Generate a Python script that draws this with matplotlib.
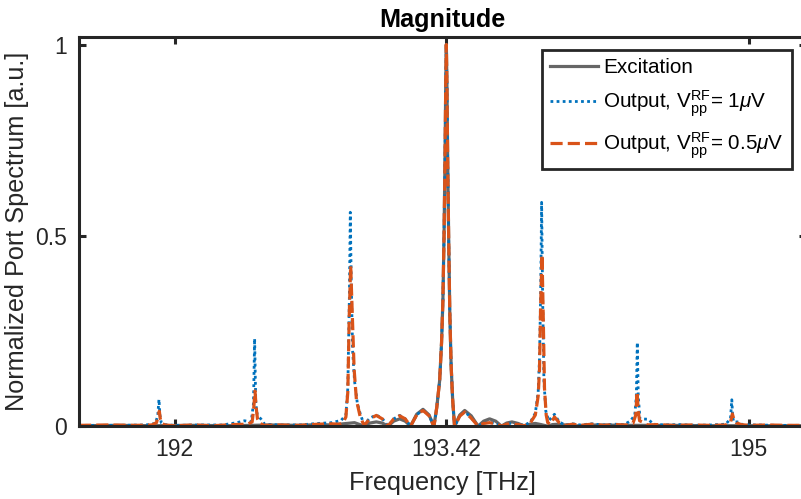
#magnitude of the port spectrum: excitation and two outputs
import numpy as np
import matplotlib
matplotlib.use("Agg")
import matplotlib.pyplot as plt

plt.rcParams['font.family'] = ['Liberation Sans', 'DejaVu Sans']
plt.rcParams['mathtext.fontset'] = 'custom'
plt.rcParams['mathtext.rm'] = 'Liberation Sans'
plt.rcParams['mathtext.it'] = 'Liberation Sans:italic'

# excitation (grey, solid)
f_exc = [191.50, 191.70, 191.90, 192.10, 192.30, 192.50, 192.65, 192.75, 192.82, 192.88,
         192.94, 192.985, 193.020, 193.054, 193.085, 193.115, 193.145, 193.176, 193.205, 193.233,
         193.265, 193.298, 193.330, 193.355, 193.370, 193.385, 193.395, 193.402, 193.408, 193.413,
         193.417, 193.420, 193.423, 193.427, 193.432, 193.438, 193.445, 193.453, 193.463, 193.490,
         193.516, 193.550, 193.586, 193.615, 193.646, 193.678, 193.708, 193.735, 193.763, 193.795,
         193.828, 193.855, 193.885, 193.915, 193.948, 193.975, 194.005, 194.040, 194.070, 194.20,
         194.40, 194.60, 194.80, 195.00, 195.30]
y_exc = [0.002, 0.003, 0.002, 0.003, 0.002, 0.004, 0.003, 0.005, 0.004, 0.007,
         0.010, 0.002, 0.009, 0.012, 0.009, 0.001, 0.014, 0.020, 0.014, 0.001,
         0.032, 0.045, 0.030, 0.0, 0.05, 0.12, 0.22, 0.33, 0.50, 0.70,
         0.90, 1.0, 0.90, 0.70, 0.50, 0.30, 0.16, 0.07, 0.0, 0.030,
         0.042, 0.028, 0.001, 0.014, 0.020, 0.014, 0.001, 0.009, 0.012, 0.008,
         0.001, 0.006, 0.008, 0.005, 0.001, 0.005, 0.006, 0.004, 0.001, 0.004,
         0.003, 0.003, 0.002, 0.002, 0.002]

# output, Vpp = 1 uV (blue, dotted)
f_1uv = [191.50, 191.70, 191.85, 191.90, 191.912, 191.918, 191.923, 191.930, 191.945, 192.00,
         192.15, 192.25, 192.325, 192.365, 192.40, 192.412, 192.418, 192.424, 192.432, 192.452,
         192.47, 192.55, 192.65, 192.75, 192.82, 192.87, 192.895, 192.905, 192.913, 192.918,
         192.923, 192.930, 192.940, 192.955, 192.972, 192.990, 193.020, 193.054, 193.085, 193.115,
         193.145, 193.176, 193.205, 193.233, 193.265, 193.298, 193.330, 193.355, 193.370, 193.385,
         193.395, 193.402, 193.408, 193.413, 193.417, 193.420, 193.423, 193.427, 193.432, 193.438,
         193.445, 193.453, 193.463, 193.490, 193.516, 193.550, 193.586, 193.615, 193.646, 193.678,
         193.708, 193.735, 193.763, 193.795, 193.828, 193.860, 193.885, 193.900, 193.907, 193.913,
         193.918, 193.923, 193.930, 193.940, 193.955, 193.985, 194.010, 194.040, 194.080, 194.120,
         194.180, 194.240, 194.300, 194.350, 194.383, 194.405, 194.413, 194.418, 194.423, 194.432,
         194.477, 194.500, 194.560, 194.640, 194.720, 194.800, 194.880, 194.905, 194.912, 194.916,
         194.921, 194.930, 194.947, 194.970, 195.050, 195.150, 195.300]
y_1uv = [0.003, 0.003, 0.004, 0.008, 0.030, 0.071, 0.030, 0.010, 0.005, 0.003,
         0.004, 0.004, 0.010, 0.015, 0.012, 0.060, 0.230, 0.060, 0.030, 0.019,
         0.006, 0.004, 0.004, 0.008, 0.010, 0.016, 0.030, 0.100, 0.330, 0.561,
         0.380, 0.200, 0.120, 0.060, 0.030, 0.005, 0.022, 0.030, 0.021, 0.001,
         0.020, 0.029, 0.020, 0.001, 0.031, 0.043, 0.029, 0.0, 0.05, 0.12,
         0.22, 0.33, 0.50, 0.70, 0.90, 1.0, 0.90, 0.70, 0.50, 0.30,
         0.16, 0.07, 0.0, 0.028, 0.039, 0.023, 0.001, 0.009, 0.011, 0.008,
         0.001, 0.006, 0.009, 0.006, 0.003, 0.012, 0.035, 0.090, 0.180, 0.350,
         0.587, 0.350, 0.120, 0.040, 0.015, 0.032, 0.012, 0.004, 0.007, 0.004,
         0.007, 0.004, 0.006, 0.005, 0.015, 0.030, 0.080, 0.220, 0.080, 0.020,
         0.019, 0.006, 0.004, 0.005, 0.003, 0.004, 0.006, 0.020, 0.070, 0.030,
         0.012, 0.012, 0.012, 0.004, 0.004, 0.003, 0.003]

# output, Vpp = 0.5 uV (orange, dashed)
f_05uv = [191.50, 191.65, 191.80, 191.88, 191.905, 191.913, 191.920, 191.925, 191.932, 191.950,
          192.00, 192.10, 192.20, 192.30, 192.38, 192.405, 192.413, 192.420, 192.426, 192.433,
          192.445, 192.47, 192.55, 192.65, 192.75, 192.82, 192.86, 192.88, 192.895, 192.905,
          192.913, 192.920, 192.928, 192.938, 192.950, 192.970, 192.990, 193.020, 193.054, 193.085,
          193.115, 193.145, 193.176, 193.205, 193.233, 193.265, 193.298, 193.330, 193.355, 193.370,
          193.385, 193.395, 193.402, 193.408, 193.413, 193.417, 193.420, 193.423, 193.427, 193.432,
          193.438, 193.445, 193.453, 193.463, 193.490, 193.516, 193.550, 193.586, 193.615, 193.646,
          193.678, 193.708, 193.735, 193.763, 193.795, 193.828, 193.860, 193.885, 193.900, 193.907,
          193.913, 193.920, 193.926, 193.933, 193.942, 193.950, 193.965, 193.985, 194.010, 194.040,
          194.080, 194.120, 194.180, 194.240, 194.300, 194.360, 194.395, 194.410, 194.417, 194.423,
          194.430, 194.445, 194.470, 194.520, 194.600, 194.700, 194.800, 194.880, 194.905, 194.915,
          194.922, 194.935, 194.960, 195.00, 195.10, 195.20, 195.30]
y_05uv = [0.003, 0.004, 0.003, 0.004, 0.010, 0.025, 0.040, 0.020, 0.008, 0.004,
          0.002, 0.004, 0.002, 0.005, 0.006, 0.012, 0.045, 0.093, 0.050, 0.020,
          0.008, 0.003, 0.004, 0.003, 0.006, 0.007, 0.006, 0.010, 0.025, 0.090,
          0.300, 0.421, 0.300, 0.150, 0.070, 0.025, 0.003, 0.020, 0.029, 0.020,
          0.001, 0.020, 0.028, 0.020, 0.001, 0.030, 0.042, 0.028, 0.0, 0.05,
          0.12, 0.22, 0.33, 0.50, 0.70, 0.90, 1.0, 0.90, 0.70, 0.50,
          0.30, 0.16, 0.07, 0.0, 0.027, 0.038, 0.022, 0.001, 0.008, 0.010,
          0.007, 0.001, 0.006, 0.008, 0.005, 0.002, 0.010, 0.030, 0.080, 0.150,
          0.320, 0.450, 0.300, 0.100, 0.030, 0.010, 0.006, 0.025, 0.010, 0.003,
          0.006, 0.003, 0.006, 0.003, 0.005, 0.004, 0.008, 0.030, 0.091, 0.040,
          0.015, 0.012, 0.004, 0.005, 0.003, 0.004, 0.003, 0.004, 0.010, 0.033,
          0.020, 0.010, 0.005, 0.003, 0.004, 0.003, 0.003]

x_ticks = [192, 193.42, 195]
x_ticklabels = ['192', '193.42', '195']
y_ticks = [0, 0.5, 1]
y_ticklabels = ['0', '0.5', '1']

fig = plt.figure(figsize=(8.01, 4.99), dpi=100)
ax = fig.add_axes([0.0986, 0.1453, 0.9077, 0.7806])

ax.plot(f_exc, y_exc, color='#666666', lw=2.3, ls='-', label='Excitation')
ax.plot(f_1uv, y_1uv, color='#0072BD', lw=2.0, dashes=(1.0, 1.2),
        label=r'Output, V$_{\rm pp}^{\rm RF}$= 1$\mu$V')
ax.plot(f_05uv, y_05uv, color='#D95319', lw=2.3, dashes=(3.8, 1.6),
        label=r'Output, V$_{\rm pp}^{\rm RF}$= 0.5$\mu$V')

ax.set_xlim(191.5, 195.3)
ax.set_ylim(0, 1.02)
ax.set_xticks(x_ticks)
ax.set_xticklabels(x_ticklabels)
ax.set_yticks(y_ticks)
ax.set_yticklabels(y_ticklabels)

dark = '#262626'
for s in ax.spines.values():
    s.set_linewidth(2.2)
    s.set_color(dark)
ax.tick_params(direction='in', length=5, width=2.2, colors=dark, labelsize=16.5,
               pad=8.5, top=True, right=True)

ax.set_xlabel('Frequency [THz]', fontsize=18.15, color=dark, labelpad=7)
ax.set_ylabel('Normalized Port Spectrum [a.u.]', fontsize=18.15, color=dark, labelpad=4.5)
ax.set_title('Magnitude', fontsize=18.15, fontweight='bold', pad=7)

leg = ax.legend(loc='upper right', bbox_to_anchor=(0.981, 0.967), borderaxespad=0,
                fontsize=14.85, handlelength=2.35, fancybox=False, framealpha=1,
                labelspacing=0.55, handletextpad=0.25, borderpad=0.4)
leg.get_frame().set_edgecolor(dark)
leg.get_frame().set_linewidth(2.0)

fig.savefig('out.png', dpi=100)
